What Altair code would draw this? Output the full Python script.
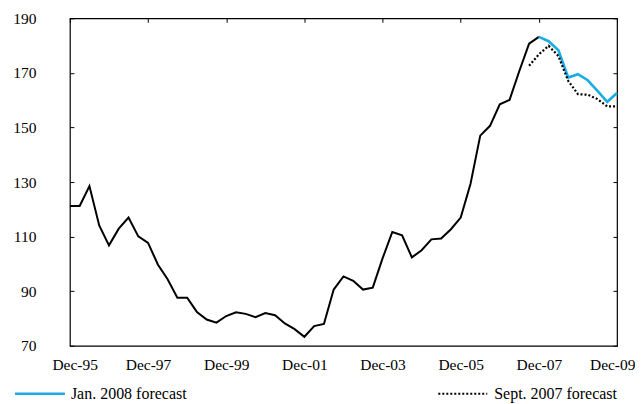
import json
import altair as alt
import pandas as pd

# Quarterly index: 0 = Dec-95 ... 56 = Dec-09
actual_q = list(range(0, 49))
actual_vals = [121.2, 121.2, 128.5, 114.1, 106.8, 112.9, 117.0, 110.1, 107.7, 99.8,
               94.4, 87.6, 87.6, 82.4, 79.6, 78.5, 80.9, 82.3, 81.7, 80.5,
               82.0, 81.2, 78.2, 76.1, 73.3, 77.2, 78.0, 90.6, 95.4, 93.8,
               90.6, 91.3, 102.0, 111.7, 110.5, 102.4, 105.0, 109.0, 109.3, 112.7,
               117.0, 129.3, 147.0, 150.6, 158.5, 160.1, 170.7, 180.7, 183.2]
jan_q = list(range(48, 57))
jan_vals = [183.2, 181.6, 178.3, 168.3, 169.5, 167.3, 163.4, 159.4, 162.6]
sept_q = list(range(47, 57))
sept_vals = [172.6, 176.8, 179.9, 176.2, 167.1, 162.2, 162.0, 160.4, 157.7, 157.7]

x_tick_q = [0, 8, 16, 24, 32, 40, 48, 56]
x_labels = ["Dec-95", "Dec-97", "Dec-99", "Dec-01", "Dec-03", "Dec-05", "Dec-07", "Dec-09"]
y_ticks = [70, 90, 110, 130, 150, 170, 190]
jan_name = "Jan. 2008 forecast"
sept_name = "Sept. 2007 forecast"

W, H = 548, 328
TICK = 4
FONT = "Liberation Serif"
CYAN = "#1BACE4"
LEG_Y = 376

df_a = pd.DataFrame({"q": actual_q, "v": actual_vals})
df_j = pd.DataFrame({"q": jan_q, "v": jan_vals})
df_s = pd.DataFrame({"q": sept_q, "v": sept_vals})
df_lj = pd.DataFrame({"name": [jan_name]})
df_ls = pd.DataFrame({"name": [sept_name]})

xs = alt.Scale(domain=[0, 56], nice=False, zero=False)
ys = alt.Scale(domain=[70, 190], nice=False, zero=False)
label_expr = json.dumps(x_labels) + "[round(datum.value/8)]"

x_axis = alt.Axis(orient="bottom", values=x_tick_q, labelExpr=label_expr,
                  ticks=False, domain=False, title=None,
                  grid=True, gridColor="black", gridWidth=1, gridOpacity=1,
                  gridDash=[TICK, 2000],
                  labelPadding=12, labelFont=FONT, labelFontSize=15.5,
                  labelColor="black", labelFlush=True, labelFlushOffset=18,
                  labelOverlap=False)
y_axis = alt.Axis(orient="left", values=y_ticks, ticks=False, domain=False, title=None,
                  grid=True, gridColor="black", gridWidth=1, gridOpacity=1,
                  gridDash=[TICK, W - 2 * TICK],
                  labelPadding=34, labelFont=FONT, labelFontSize=15.5,
                  labelColor="black", labelFlush=False, labelOverlap=False)

X = alt.X("q:Q", scale=xs, axis=x_axis)
Y = alt.Y("v:Q", scale=ys, axis=y_axis)

actual = alt.Chart(df_a).mark_line(color="black", strokeWidth=2).encode(x=X, y=Y)
jan = alt.Chart(df_j).mark_line(color=CYAN, strokeWidth=2.6).encode(x=X, y=Y)
sept = alt.Chart(df_s).mark_line(color="black", strokeWidth=2.2, strokeDash=[2, 2]).encode(x=X, y=Y)

# legend (below the plot)
leg_j_line = alt.Chart(df_lj).mark_rule(color=CYAN, strokeWidth=2.6).encode(
    x=alt.value(-55), x2=alt.value(-5), y=alt.value(LEG_Y))
leg_j_text = alt.Chart(df_lj).mark_text(align="left", baseline="middle", font=FONT, fontSize=16,
                                        color="black").encode(
    x=alt.value(1), y=alt.value(LEG_Y), text="name:N")
leg_s_line = alt.Chart(df_ls).mark_rule(color="black", strokeWidth=2, strokeDash=[2, 2]).encode(
    x=alt.value(369), x2=alt.value(418), y=alt.value(LEG_Y))
leg_s_text = alt.Chart(df_ls).mark_text(align="right", baseline="middle", font=FONT, fontSize=16,
                                        color="black").encode(
    x=alt.value(W), y=alt.value(LEG_Y), text="name:N")

chart = alt.layer(actual, jan, sept, leg_j_line, leg_j_text, leg_s_line, leg_s_text).properties(
    width=W, height=H,
    background="white",
    padding={"left": 4, "top": 3, "right": 0, "bottom": 2},
).configure_view(stroke="black", strokeWidth=1.2)

chart.save("out.html", embed_options={"renderer": "svg", "actions": False})
